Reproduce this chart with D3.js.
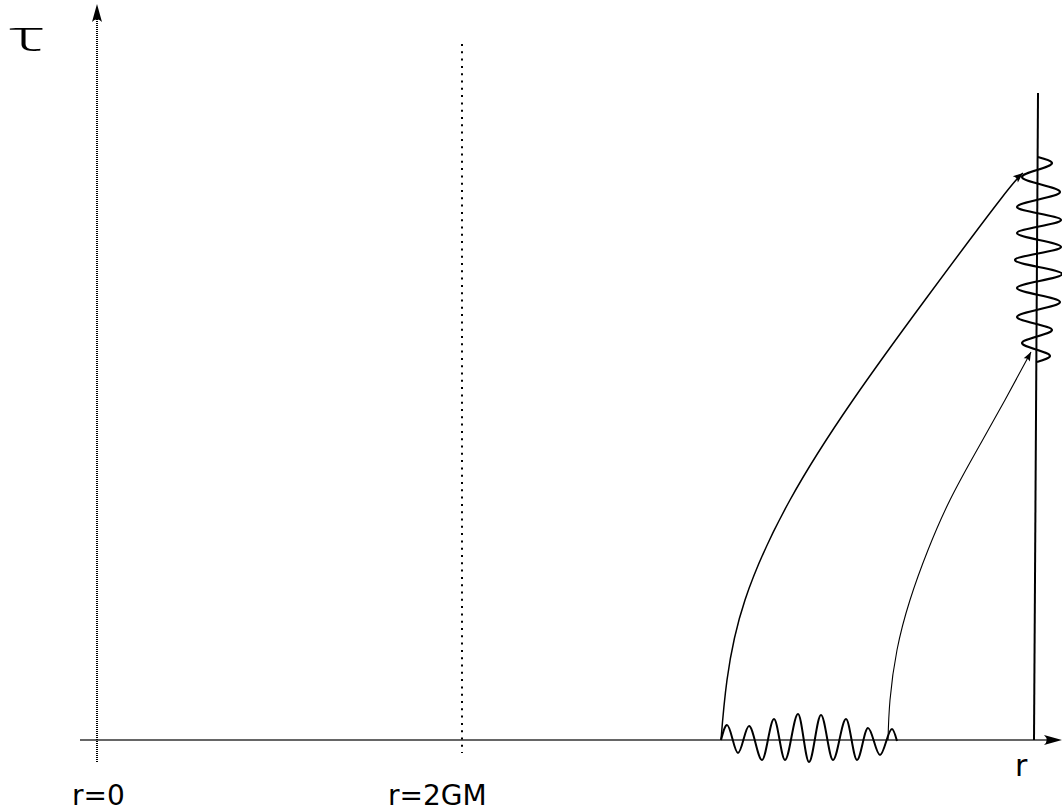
<!DOCTYPE html>
<html>
<head>
<meta charset="utf-8">
<script src="https://cdn.jsdelivr.net/npm/d3@7"></script>
<style>
  body { margin: 0; background: #fff; }
  text { font-family: "DejaVu Sans", sans-serif; fill: #000; }
</style>
</head>
<body>
<svg id="chart"></svg>
<script>
// figure units: r to the right of the r=0 line, tau up from the r axis
const axisNames = ["r", "τ"];
const lineLabels = ["r=0", "r=2GM"];
const lineR = [0, 365];

// observer world line (r, tau) top and bottom
const observer = [[941, 647], [937, 0]];

// wave packet sent out near the horizon, crests and troughs
const emitted = [
  [624, 0], [630, 15], [641, -13], [652, 14], [665, -20], [677, 21], [688, -20],
  [701, 26], [712, -22], [724, 25], [736, -20], [749, 21], [760, -20], [771, 12],
  [783, -15], [795, 11], [800, -1]
];

// same packet as seen by the observer, stretched in tau
const received = [
  [941, 583], [955, 577], [925, 563], [963, 548], [920, 533], [964, 520],
  [920, 507], [964, 493], [918, 480], [965, 466], [920, 452], [963, 438],
  [920, 423], [955, 410], [925, 397], [953, 384], [940, 378]
];

// light rays from the two ends of the packet
const rayFront = [
  [624, 0], [630, 60], [648, 140], [693, 240], [756, 340], [828, 440],
  [903, 540], [926, 567]
];
const rayBack = [
  [791, 0], [793, 40], [800, 90], [813, 140], [831, 190], [853, 240],
  [880, 290], [908, 340], [934, 388]
];

const width = 1062, height = 811;

const svg = d3.select('#chart')
  .attr('width', width)
  .attr('height', height);

svg.append('rect').attr('width', width).attr('height', height).attr('fill', '#fff');

const x = d3.scaleLinear().domain([0, 965]).range([97, 1062]);
const y = d3.scaleLinear().domain([0, 740]).range([740, 0]);

// arrow heads
const defs = svg.append('defs');
function marker(id, len, half) {
  defs.append('marker')
    .attr('id', id)
    .attr('markerUnits', 'userSpaceOnUse')
    .attr('viewBox', `${-len - 1} ${-half - 1} ${len + 2} ${2 * half + 2}`)
    .attr('markerWidth', len + 2)
    .attr('markerHeight', 2 * half + 2)
    .attr('refX', 0).attr('refY', 0)
    .attr('orient', 'auto')
    .append('path')
      .attr('d', `M0,0 L${-len},${-half} Q${-len * 0.7},0 ${-len},${half} Z`)
      .attr('fill', '#000')
      .attr('stroke', 'none');
}
marker('axisHead', 18, 5);
marker('rayHeadA', 10, 4);
marker('rayHeadB', 9, 3.5);

// r axis
svg.append('line')
  .attr('x1', x(-17)).attr('y1', y(0))
  .attr('x2', x(950)).attr('y2', y(0))
  .attr('stroke', '#333').attr('stroke-width', 1.6);
svg.append('line')
  .attr('x1', x(940)).attr('y1', y(0))
  .attr('x2', x(965)).attr('y2', y(0))
  .attr('stroke', 'none')
  .attr('marker-end', 'url(#axisHead)');

// tau axis, r=0 (fine dotted)
svg.append('line')
  .attr('x1', x(lineR[0])).attr('y1', y(-22))
  .attr('x2', x(lineR[0])).attr('y2', y(722))
  .attr('stroke', '#000').attr('stroke-width', 2)
  .attr('stroke-dasharray', '1,1');
svg.append('line')
  .attr('x1', x(lineR[0])).attr('y1', y(700))
  .attr('x2', x(lineR[0])).attr('y2', y(736))
  .attr('stroke', 'none')
  .attr('marker-end', 'url(#axisHead)');

// r=2GM dotted
svg.append('line')
  .attr('x1', x(lineR[1])).attr('y1', y(696))
  .attr('x2', x(lineR[1])).attr('y2', y(-13))
  .attr('stroke', '#000').attr('stroke-width', 2)
  .attr('stroke-dasharray', '2,5.3');

// observer
svg.append('line')
  .attr('x1', x(observer[0][0])).attr('y1', y(observer[0][1]))
  .attr('x2', x(observer[1][0])).attr('y2', y(observer[1][1]))
  .attr('stroke', '#000').attr('stroke-width', 2);

// waves
const waveX = d3.line().x(d => x(d[0])).y(d => y(d[1])).curve(d3.curveMonotoneX);
const waveY = d3.line().x(d => x(d[0])).y(d => y(d[1])).curve(d3.curveMonotoneY);

svg.append('path')
  .datum(emitted)
  .attr('fill', 'none').attr('stroke', '#000').attr('stroke-width', 2)
  .attr('d', waveX);

svg.append('path')
  .datum(received)
  .attr('fill', 'none').attr('stroke', '#000').attr('stroke-width', 2.2)
  .attr('d', waveY);

// rays
const ray = d3.line().x(d => x(d[0])).y(d => y(d[1])).curve(d3.curveNatural);

svg.append('path')
  .datum(rayFront)
  .attr('fill', 'none').attr('stroke', '#000').attr('stroke-width', 1.5)
  .attr('marker-end', 'url(#rayHeadA)')
  .attr('d', ray);

svg.append('path')
  .datum(rayBack)
  .attr('fill', 'none').attr('stroke', '#000').attr('stroke-width', 1.1)
  .attr('marker-end', 'url(#rayHeadB)')
  .attr('d', ray);

// labels
svg.append('text')
  .attr('x', x(lineR[0]) - 25).attr('y', 805)
  .attr('font-size', 28)
  .text(lineLabels[0]);
svg.append('text')
  .attr('x', x(lineR[1]) - 74).attr('y', 805)
  .attr('font-size', 28)
  .text(lineLabels[1]);
svg.append('text')
  .attr('x', x(918)).attr('y', 776)
  .attr('font-size', 30)
  .text(axisNames[0]);
svg.append('text')
  .attr('x', 9).attr('y', 51)
  .attr('font-size', 42)
  .attr('font-weight', 300)
  .attr('textLength', 36)
  .attr('lengthAdjust', 'spacingAndGlyphs')
  .style('font-family', '"Open Sans", sans-serif')
  .text(axisNames[1]);
</script>
</body>
</html>
